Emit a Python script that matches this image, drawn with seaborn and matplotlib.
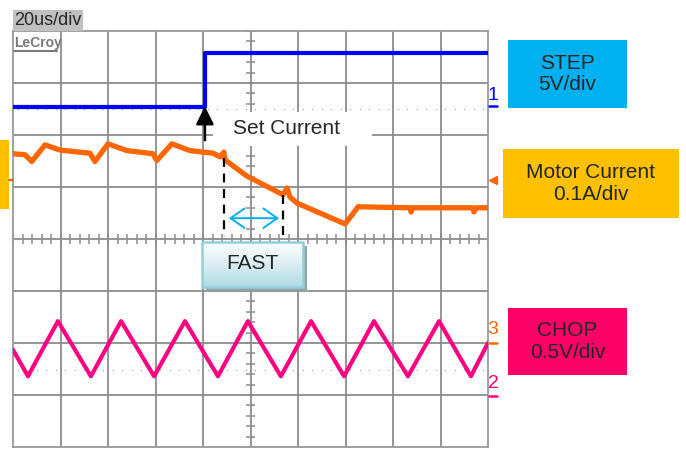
import numpy as np
import pandas as pd
import matplotlib
matplotlib.use('Agg')
import matplotlib.pyplot as plt
import seaborn as sns
from matplotlib.patches import Rectangle, FancyArrowPatch

sns.set_style('white')
plt.rcParams['font.family'] = ['Liberation Sans', 'DejaVu Sans']

# time in us (20us/div, 10 div), amplitude in screen divisions (-4..4)
step_t = [0, 80.8, 80.8, 200]
step_v = [2.54, 2.54, 3.58, 3.58]

cur_t = [0, 5.05, 7.9, 13.5, 19.8, 32.4, 34.5, 40.0, 48.0, 58.9, 60.6, 66.9, 74.5,
         84.2, 87.2, 88.8, 89.3, 98.5, 113.7, 115.4, 116.6, 119.6, 139.8, 142.7,
         145.3, 167.2, 167.6, 168.4, 193.7, 194.1, 195.0, 200]
cur_v = [1.64, 1.62, 1.49, 1.81, 1.71, 1.65, 1.49, 1.83, 1.70, 1.64, 1.51, 1.83, 1.70,
         1.65, 1.58, 1.67, 1.52, 1.21, 0.85, 0.98, 0.81, 0.69, 0.29, 0.46,
         0.62, 0.60, 0.52, 0.60, 0.60, 0.52, 0.60, 0.60]

chop_t = [0, 6.3, 18.9, 32.8, 45.5, 59.4, 72.4, 86.3, 98.9, 112.8, 125.5,
          139.4, 152.0, 166.3, 179.4, 192.8, 200]
chop_v = [-2.13, -2.64, -1.58, -2.64, -1.58, -2.64, -1.58, -2.64, -1.58, -2.64, -1.58,
          -2.64, -1.58, -2.64, -1.58, -2.64, -2.0]

W, H = 686, 453


def fx(x):
    return x / W


def fy(y):
    return 1 - y / H


fig = plt.figure(figsize=(6.86, 4.53), dpi=100)
ax = fig.add_axes([fx(13), fy(447), 475 / W, 416 / H])
ax.set_xlim(0, 200)
ax.set_ylim(-4, 4)
ax.set_xticks([])
ax.set_yticks([])
for s in ax.spines.values():
    s.set_color('#999999')
    s.set_linewidth(1.3)

grid_c = '#8c8c8c'
for gx in np.arange(20, 200, 20):
    ax.axvline(gx, color=grid_c, lw=1.3, zorder=1)
for gy in np.arange(-3, 4, 1):
    ax.axhline(gy, color=grid_c, lw=1.3, zorder=1)
# minor ticks on centre lines
ax.vlines(np.arange(0, 201, 4), -0.1, 0.1, color=grid_c, lw=1.1, zorder=1)
ax.hlines(np.arange(-4, 4.01, 0.2), 97.9, 102.1, color=grid_c, lw=1.1, zorder=1)
# ground reference dots
ax.scatter(np.arange(2, 200, 4), np.full(50, 2.5), s=1.2, color='#b0b0b0', zorder=1, lw=0)
ax.scatter(np.arange(2, 200, 4), np.full(50, -2.52), s=1.2, color='#b0b0b0', zorder=1, lw=0)

# white label area that hides the graticule
ax.add_patch(Rectangle((84.2, 1.79), 67.0, 0.65, facecolor='white', edgecolor='none', zorder=2))
ax.text(115, 2.12, 'Set Current', fontsize=15, ha='center', va='center', zorder=6)

sns.lineplot(x=step_t, y=step_v, ax=ax, color='#0000ff', lw=3.0, sort=False,
             estimator=None, zorder=4)
sns.lineplot(x=cur_t, y=cur_v, ax=ax, color='#ff6600', lw=3.8, sort=False,
             estimator=None, zorder=4)
sns.lineplot(x=chop_t, y=chop_v, ax=ax, color='#ff0080', lw=3.0, sort=False,
             estimator=None, zorder=4)

# set-current arrow
ax.add_patch(FancyArrowPatch((80.8, 1.90), (80.8, 2.55),
                             arrowstyle='-|>,head_length=0.9,head_width=0.45',
                             mutation_scale=12, lw=1.8, color='black',
                             shrinkA=0, shrinkB=0, zorder=6))
# dashed markers
ax.plot([88.8, 88.8], [1.55, 0.06], color='black', lw=1.6, ls=(0, (4, 3)), zorder=5)
ax.plot([113.7, 113.7], [0.85, 0.06], color='black', lw=1.6, ls=(0, (4, 3)), zorder=5)
ax.add_patch(FancyArrowPatch((90.9, 0.40), (112.0, 0.40),
                             arrowstyle='<->,head_length=10,head_width=7',
                             lw=1.4, color='#00b0f0', shrinkA=0, shrinkB=0, zorder=6))

# FAST box with shadow and gradient
ax.add_patch(Rectangle((81.3, -1.0), 42.5, 0.865, facecolor='#8fa3a8',
                       edgecolor='none', zorder=6))
grad = np.linspace(0, 1, 50).reshape(-1, 1)
cmap = matplotlib.colors.LinearSegmentedColormap.from_list('g', ['#ffffff', '#b3dbe4'])
ax.imshow(grad, extent=(79.6, 122.1, -0.06, -0.92), cmap=cmap, aspect='auto',
          origin='lower', zorder=7)
ax.add_patch(Rectangle((79.6, -0.92), 42.5, 0.86, facecolor='none',
                       edgecolor='#93cfdb', lw=1.8, zorder=8))
ax.text(100.8, -0.48, 'FAST', fontsize=15, ha='center', va='center', zorder=9)
ax.set_xlim(0, 200)
ax.set_ylim(-4, 4)

# outer annotations in figure coordinates
fig.patches.append(Rectangle((fx(13), fy(31)), 70 / W, 21 / H, facecolor='#c0c0c0',
                             edgecolor='none', transform=fig.transFigure))
fig.text(fx(14), fy(20.5), '20us/div', fontsize=13, va='center', ha='left')
fig.text(fx(14), fy(43), 'LeCroy', fontsize=10, fontweight='bold', color='#7a7a7a',
         family=['Liberation Sans Narrow', 'Liberation Sans'], va='center', ha='left', zorder=10)
fig.lines.append(plt.Line2D([fx(14), fx(57)], [fy(51), fy(51)], color='#7a7a7a', lw=1.5,
                            transform=fig.transFigure))

fig.patches.append(Rectangle((0, fy(209)), 9 / W, 69 / H, facecolor='#ffc000',
                             edgecolor='none', transform=fig.transFigure))
fig.lines.append(plt.Line2D([fx(9), fx(13)], [fy(180), fy(180)], color='#ff6600', lw=1.5,
                            transform=fig.transFigure))
fig.lines.append(plt.Line2D([fx(493)], [fy(180)], marker='<', ms=6, color='#ff6600',
                            transform=fig.transFigure))

for lab, col, cy, uy in [('1', '#0000ff', 96, 106), ('3', '#ff6600', 330, 343),
                         ('2', '#ff0080', 383, 396)]:
    fig.text(fx(493), fy(cy), lab, fontsize=14, color=col, ha='center', va='center',
             family=['Liberation Sans Narrow', 'Liberation Sans'])
    fig.lines.append(plt.Line2D([fx(488.5), fx(497)], [fy(uy), fy(uy)], color=col, lw=1.8,
                                transform=fig.transFigure))

for (x0, y0, x1, y1, col, txt) in [(508, 40, 627, 108, '#00b0f0', 'STEP\n5V/div'),
                                   (503, 149, 679, 218, '#ffc000', 'Motor Current\n0.1A/div'),
                                   (508, 308, 627, 375, '#ff0066', 'CHOP\n0.5V/div')]:
    fig.patches.append(Rectangle((fx(x0), fy(y1)), (x1 - x0) / W, (y1 - y0) / H,
                                 facecolor=col, edgecolor='none', transform=fig.transFigure))
    fig.text(fx((x0 + x1) / 2), fy((y0 + y1) / 2), txt, fontsize=15, ha='center',
             va='center', linespacing=1.15)

fig.savefig('out.png', dpi=100)
